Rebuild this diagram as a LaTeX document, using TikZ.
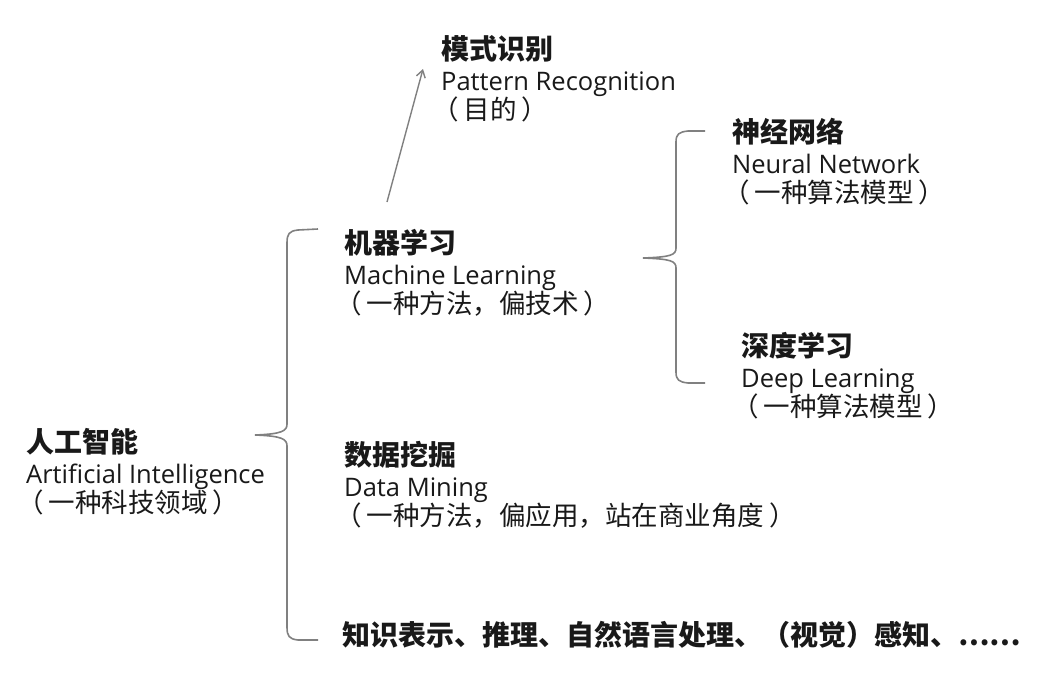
\documentclass[tikz,border=0pt]{standalone}
\usepackage{fontspec}
\setmainfont{Open Sans}
\newfontfamily\cjk{Noto Sans CJK SC}
\usetikzlibrary{arrows.meta}

\tikzset{
  topic/.style={anchor=base west, align=left, inner sep=0pt, text=black!90,
    font=\fontsize{25.5}{29}\selectfont},
  brace/.style={draw=black!50, line width=1.6pt},
}
\newcommand{\ttl}[1]{{\cjk\bfseries\fontsize{28}{30}\selectfont #1}}
\newcommand{\cn}[1]{\hspace*{-9pt}{\cjk\fontsize{26.5}{30}\selectfont （\hspace{5pt}#1\hspace{5pt}）}}

\begin{document}
\begin{tikzpicture}[x=1pt,y=-1pt]
\useasboundingbox[fill=white] (0,0) rectangle (1038,672);

% topics (anchored on the last line)
\node[topic] (ai) at (26,512) {\ttl{人工智能}\\[2pt]Artificial Intelligence\\\cn{一种科技领域}};
\node[topic] (ml) at (344,313) {\ttl{机器学习}\\[2pt]Machine Learning\\\cn{一种方法，偏技术}};
\node[topic] (dm) at (344,525) {\ttl{数据挖掘}\\[2pt]Data Mining\\\cn{一种方法，偏应用，站在商业角度}};
\node[topic] (pr) at (441,119) {\ttl{模式识别}\\[2pt]Pattern Recognition\\\cn{目的}};
\node[topic] (nn) at (732,202) {\ttl{神经网络}\\[2pt]Neural Network\\\cn{一种算法模型}};
\node[topic] (dl) at (741,416) {\ttl{深度学习}\\[2pt]Deep Learning\\\cn{一种算法模型}};
\node[topic] (kr) at (342,645) {\ttl{知识表示、推理、自然语言处理、（视觉）感知、……}};

% left brace
\coordinate (lbtop) at (318,229);
\coordinate (lbtip) at (255,435);
\coordinate (lbbot) at (318,640);
\draw[brace] (lbtop) -- (298,230) .. controls (289,231) and (287,234) .. (287,243)
  -- (287,424) .. controls (287,431) and (282,434) .. (lbtip)
  .. controls (282,436) and (287,439) .. (287,446)
  -- (287,627) .. controls (287,636) and (289,639) .. (298,640) -- (lbbot);

% right brace
\coordinate (rbtop) at (705,131);
\coordinate (rbtip) at (643,258);
\coordinate (rbbot) at (705,383);
\draw[brace] (rbtop) -- (688,131) .. controls (679,132) and (676,134) .. (676,142)
  -- (676,248) .. controls (676,255) and (671,257) .. (rbtip)
  .. controls (671,259) and (676,261) .. (676,268)
  -- (676,372) .. controls (676,380) and (679,382) .. (688,383) -- (rbbot);

% goal arrow
\coordinate (armfoot) at (387,202);
\coordinate (armhead) at (423,69);
\draw[black!50, line width=1.4pt, -{Straight Barb[length=7pt,width=9pt]}] (armfoot) -- (armhead);

\end{tikzpicture}
\end{document}
